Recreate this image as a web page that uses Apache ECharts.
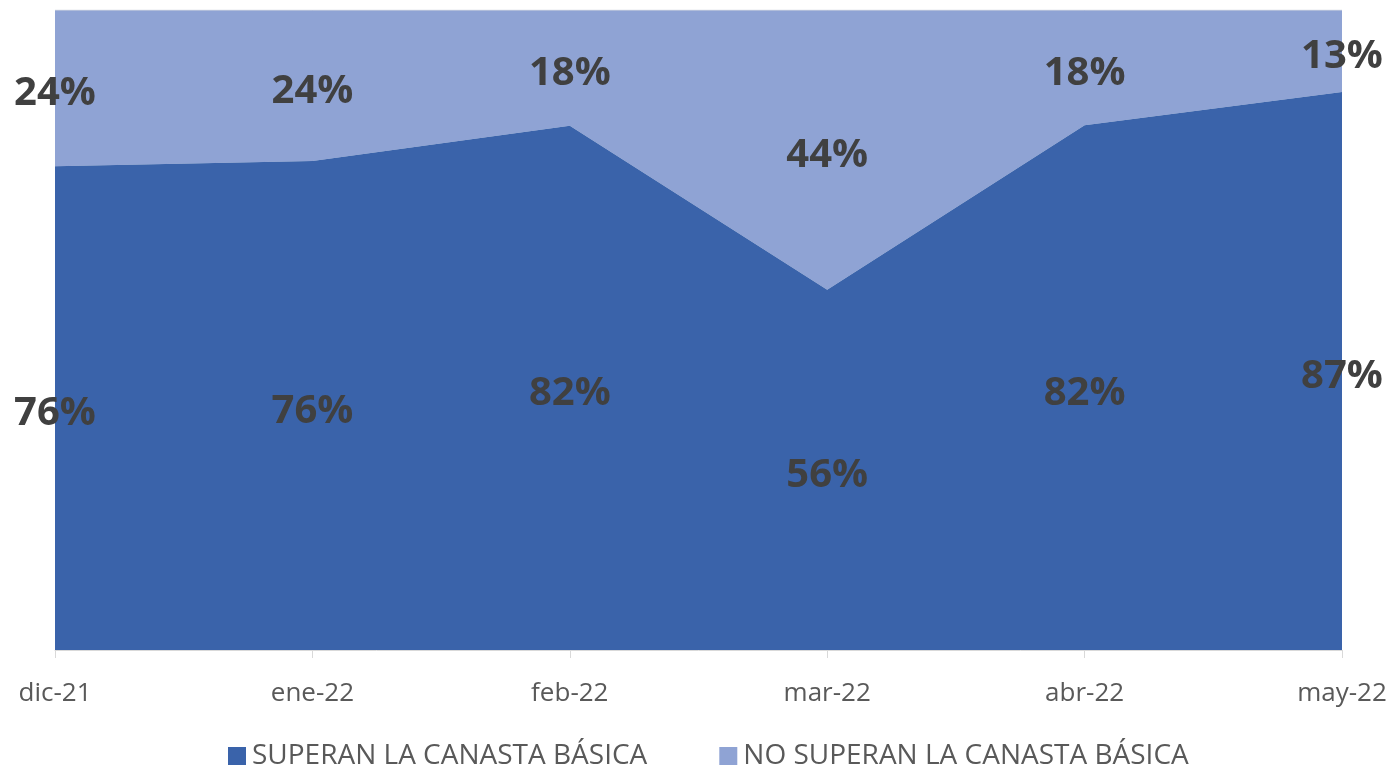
<!DOCTYPE html>
<html>
<head>
<meta charset="utf-8">
<script src="https://cdn.jsdelivr.net/npm/echarts@6/dist/echarts.min.js"></script>
<style>
  html, body { margin: 0; padding: 0; background: #fff; }
  #chart { width: 1393px; height: 767px; }
</style>
</head>
<body>
<div id="chart"></div>
<script>
// categorias (meses)
var meses = ['dic-21', 'ene-22', 'feb-22', 'mar-22', 'abr-22', 'may-22'];
// porcentaje que supera la canasta basica
var superan = [75.6, 76.4, 81.9, 56.3, 82.0, 87.2];
// porcentaje que no la supera
var noSuperan = [24.4, 23.6, 18.1, 43.7, 18.0, 12.8];

var nombres = ['SUPERAN LA CANASTA BÁSICA', 'NO SUPERAN LA CANASTA BÁSICA'];
var colores = ['#3a63aa', '#8fa3d4'];
var fuente = '"Open Sans", "Liberation Sans", sans-serif';

// etiqueta redondeada
var etiqueta = {
    show: true,
    position: 'inside',
    offset: [0, 6],
    fontFamily: fuente,
    fontSize: 40,
    fontWeight: 'bold',
    color: '#404040',
    formatter: function (p) {
        return Math.round(p.value) + '%';
    }
};

var chart = echarts.init(document.getElementById('chart'));
var option = {
    animation: false,
    color: colores,
    grid: {left: 55, right: 51, top: 10, bottom: 117},
    legend: {
        left: 228,
        top: 742,
        padding: 0,
        itemWidth: 18,
        itemHeight: 18,
        itemGap: 72,
        icon: 'rect',
        textStyle: {fontFamily: fuente, fontSize: 28, color: '#595959', padding: [0, 0, 0, 1]},
        data: nombres
    },
    xAxis: {
        type: 'category',
        boundaryGap: false,
        data: meses,
        axisLine: {lineStyle: {color: '#d9d9d9', width: 1}},
        axisTick: {show: true, length: 8, lineStyle: {color: '#d9d9d9'}},
        axisLabel: {fontFamily: fuente, fontSize: 26, color: '#595959', margin: 31}
    },
    yAxis: {
        type: 'value',
        min: 0,
        max: 100,
        show: false
    },
    series: [
        {
            name: nombres[0],
            type: 'line',
            stack: 'area',
            data: superan,
            showSymbol: false,
            lineStyle: {width: 0},
            areaStyle: {color: colores[0], opacity: 1},
            z: 2
        },
        {
            name: nombres[1],
            type: 'line',
            stack: 'area',
            data: noSuperan,
            showSymbol: false,
            lineStyle: {width: 1, color: '#d4d8e0'},
            areaStyle: {color: colores[1], opacity: 1},
            z: 1
        },
        // barras invisibles solo para ubicar las etiquetas al centro
        {
            name: 'lblSuperan',
            type: 'bar',
            stack: 'lbl',
            barWidth: 1,
            data: superan,
            itemStyle: {color: 'rgba(0,0,0,0)'},
            label: etiqueta,
            silent: true,
            z: 5
        },
        {
            name: 'lblNoSuperan',
            type: 'bar',
            stack: 'lbl',
            barWidth: 1,
            data: noSuperan,
            itemStyle: {color: 'rgba(0,0,0,0)'},
            label: etiqueta,
            silent: true,
            z: 5
        }
    ]
};
chart.setOption(option);
</script>
</body>
</html>
